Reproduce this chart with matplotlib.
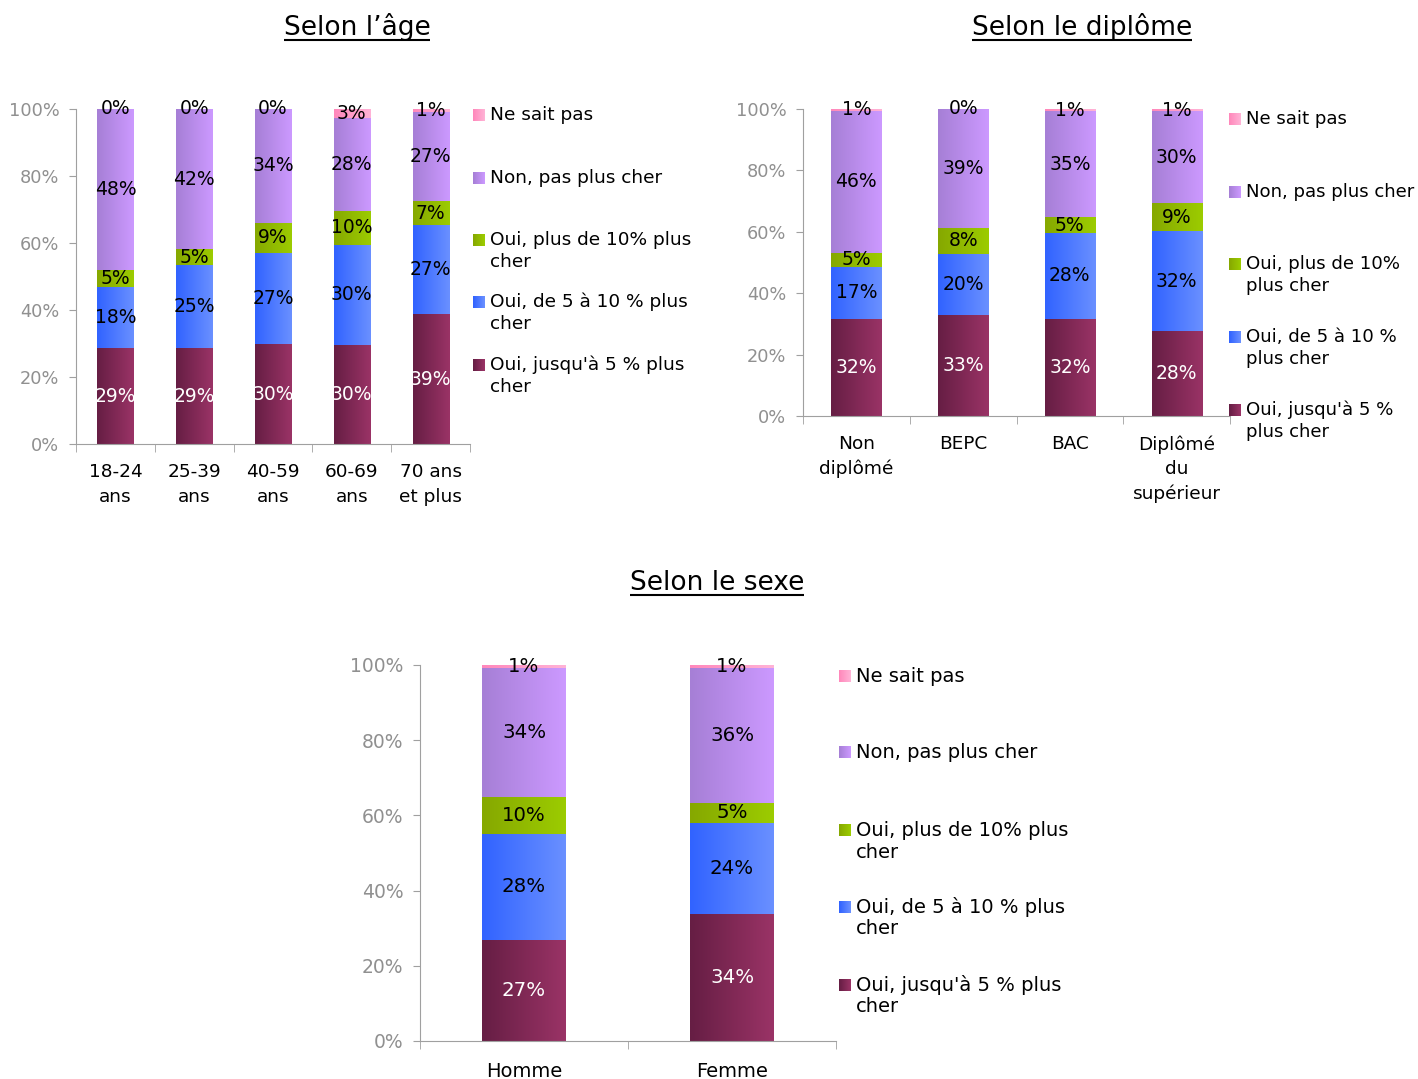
import numpy as np
import matplotlib
matplotlib.use('Agg')
import matplotlib.pyplot as plt
from matplotlib.colors import LinearSegmentedColormap

plt.rcParams['font.family'] = ['DejaVu Sans']

W, H = 1418, 1079

series = ["Oui, jusqu'à 5 % plus cher", "Oui, de 5 à 10 % plus cher",
          "Oui, plus de 10% plus cher", "Non, pas plus cher", "Ne sait pas"]

# left colour, right colour of each gradient
grad = [('#661e44', '#9a3366'), ('#3163ff', '#6a90ff'), ('#86a800', '#9ccc00'),
        ('#a67fd6', '#cc99ff'), ('#ff88bb', '#ffb3d6')]
lab_col = ['white', 'black', 'black', 'black', 'black']

age_cats = ['18-24\nans', '25-39\nans', '40-59\nans', '60-69\nans', '70 ans\net plus']
age_jusqua5 = [28.6, 28.6, 29.8, 29.6, 38.8]
age_5a10 = [18.4, 24.8, 27.2, 29.9, 26.6]
age_plus10 = [5.0, 4.7, 9.0, 10.2, 7.1]
age_non = [48.0, 41.9, 34.0, 27.7, 26.7]
age_nsp = [0.0, 0.0, 0.0, 2.6, 0.8]

dip_cats = ['Non\ndiplômé', 'BEPC', 'BAC', 'Diplômé\ndu\nsupérieur']
dip_jusqua5 = [31.6, 32.9, 31.6, 27.7]
dip_5a10 = [17.0, 20.0, 28.1, 32.4]
dip_plus10 = [4.6, 8.4, 5.0, 9.3]
dip_non = [46.2, 38.7, 34.6, 29.8]
dip_nsp = [0.6, 0.0, 0.7, 0.8]

sex_cats = ['Homme', 'Femme']
sex_jusqua5 = [26.9, 33.8]
sex_5a10 = [28.2, 24.2]
sex_plus10 = [9.8, 5.3]
sex_non = [34.3, 35.9]
sex_nsp = [0.8, 0.8]

fig = plt.figure(figsize=(W / 100, H / 100), dpi=100)


def px_axes(l, t, r, b):
    return fig.add_axes([l / W, 1 - b / H, (r - l) / W, (b - t) / H])


def grad_img(ax, x0, x1, y0, y1, c0, c1):
    cmap = LinearSegmentedColormap.from_list('g', [c0, c1])
    ax.imshow(np.linspace(0, 1, 64).reshape(1, -1), cmap=cmap, aspect='auto',
              extent=[x0, x1, y0, y1], interpolation='bilinear', zorder=2)


def stacked(ax, cats, data, width, pad, fs):
    n = len(cats)
    x = np.arange(n)
    bottom = np.zeros(n)
    for k, vals in enumerate(data):
        vals = np.array(vals)
        bars = ax.bar(x, vals, width, bottom=bottom, color='none', edgecolor='none')
        for i, r in enumerate(bars):
            if vals[i] > 0:
                grad_img(ax, r.get_x(), r.get_x() + r.get_width(),
                         r.get_y(), r.get_y() + r.get_height(), *grad[k])
            ax.text(x[i], bottom[i] + vals[i] / 2, f'{vals[i]:.0f}%', ha='center',
                    va='center', fontsize=fs + 0.2, color=lab_col[k], zorder=3)
        bottom = bottom + vals
    ax.set_xlim(-0.5, n - 0.5)
    ax.set_ylim(0, 100)
    ax.set_yticks([0, 20, 40, 60, 80, 100], ['0%', '20%', '40%', '60%', '80%', '100%'])
    ax.set_xticks(x, cats)
    ax.set_xticks(np.arange(n + 1) - 0.5, minor=True)
    ax.tick_params(axis='x', which='major', length=0, pad=pad, labelsize=fs,
                   labelcolor='black')
    ax.tick_params(axis='x', which='minor', length=6, color='#a0a0a0')
    ax.tick_params(axis='y', length=5, color='#a0a0a0', labelcolor='#909090',
                   labelsize=fs - 0.5, pad=7)
    for lab in ax.get_xticklabels():
        lab.set_linespacing(1.45)
    for s in ['top', 'right']:
        ax.spines[s].set_visible(False)
    for s in ['left', 'bottom']:
        ax.spines[s].set_color('#a0a0a0')
    ax.patch.set_alpha(0)


ax1 = px_axes(76, 109, 470, 444)
stacked(ax1, age_cats, [age_jusqua5, age_5a10, age_plus10, age_non, age_nsp],
        0.457, 14, 13.3)
ax2 = px_axes(803, 109, 1230, 416)
stacked(ax2, dip_cats, [dip_jusqua5, dip_5a10, dip_plus10, dip_non, dip_nsp],
        0.47, 14, 13.3)
ax3 = px_axes(420, 665, 836, 1041)
stacked(ax3, sex_cats, [sex_jusqua5, sex_5a10, sex_plus10, sex_non, sex_nsp],
        0.40, 15, 14)

# overlay in pixel coordinates for legends and titles
ov = fig.add_axes([0, 0, 1, 1])
ov.set_xlim(0, W)
ov.set_ylim(H, 0)
ov.axis('off')
ov.patch.set_alpha(0)

legend_age = [["Ne sait pas"], ["Non, pas plus cher"], ["Oui, plus de 10% plus", "cher"],
              ["Oui, de 5 à 10 % plus", "cher"], ["Oui, jusqu'à 5 % plus", "cher"]]
legend_dip = [["Ne sait pas"], ["Non, pas plus cher"], ["Oui, plus de 10%", "plus cher"],
              ["Oui, de 5 à 10 %", "plus cher"], ["Oui, jusqu'à 5 %", "plus cher"]]


def legend(x, ys, items, fs, gap=22):
    for j, (y, lines) in enumerate(zip(ys, items)):
        k = 4 - j
        ov.imshow(np.linspace(0, 1, 16).reshape(1, -1),
                  cmap=LinearSegmentedColormap.from_list('g', grad[k]), aspect='auto',
                  extent=[x, x + 12, y + 6, y - 6], interpolation='bilinear')
        for m, line in enumerate(lines):
            ov.text(x + 17, y + m * gap, line, ha='left', va='center', fontsize=fs)


legend(473, [115, 178, 240, 302, 365], legend_age, 13.3)
legend(1229, [119, 192, 264, 337, 410], legend_dip, 13.1)
legend(839, [676, 752, 830, 907, 985], legend_age, 14)
ov.set_xlim(0, W)
ov.set_ylim(H, 0)

titles = [("Selon l’âge", 357, 35), ("Selon le diplôme", 1082, 35), ("Selon le sexe", 717, 590)]
ttexts = []
for s, x, y in titles:
    ttexts.append((ov.text(x, y, s, ha='center', va='baseline', fontsize=19), y))

fig.canvas.draw()
inv = ov.transData.inverted()
for t, y in ttexts:
    bb = t.get_window_extent()
    (xa, _), (xb, _) = inv.transform([[bb.x0, bb.y0], [bb.x1, bb.y1]])
    ov.plot([xa, xb], [y + 4.5, y + 4.5], color='black', lw=1.5, solid_capstyle='butt')

fig.savefig('out.png', dpi=100)
